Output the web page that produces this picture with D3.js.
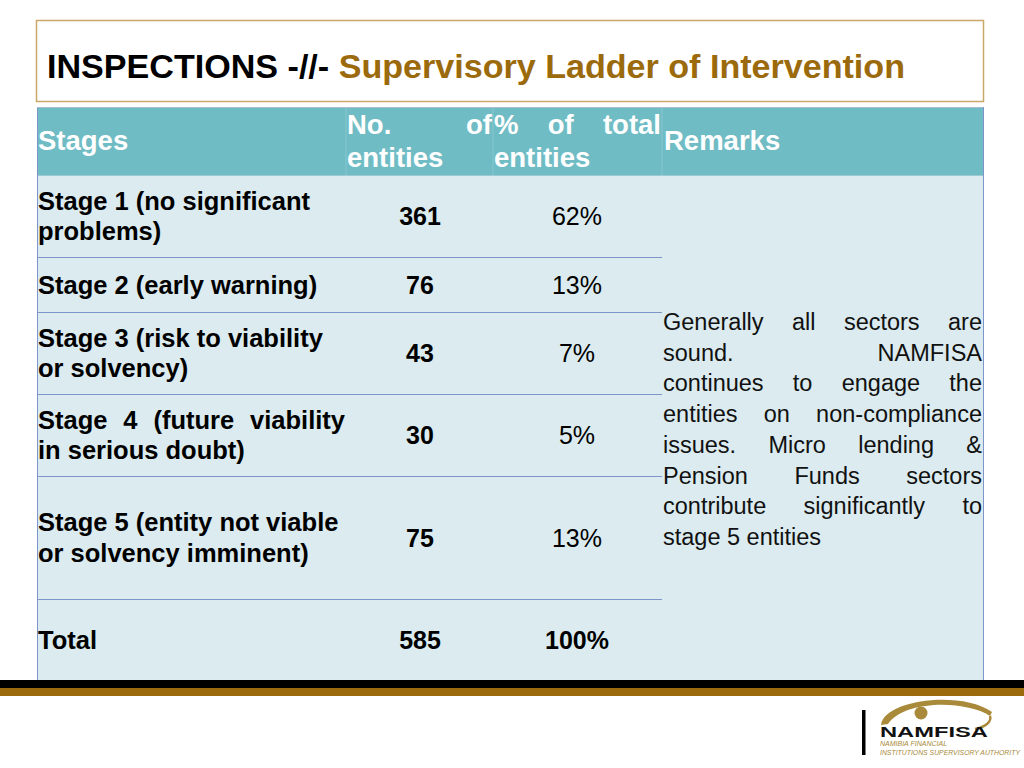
<!DOCTYPE html>
<html>
<head>
<meta charset="utf-8">
<script src="https://cdn.jsdelivr.net/npm/d3@7"></script>
<style>
  body { margin: 0; background: #fff; }
  svg { display: block; }
</style>
</head>
<body>
<div id="slide"></div>
<script>
// table content
var stages = [
  ["Stage 1 (no significant", "problems)"],
  ["Stage 2 (early warning)"],
  ["Stage 3 (risk to viability", "or solvency)"],
  ["Stage 4 (future viability", "in serious doubt)"],
  ["Stage 5 (entity not viable", "or solvency imminent)"]
];
var counts = [361, 76, 43, 30, 75];
var percents = [62, 13, 7, 5, 13];
var totalLabel = "Total";
var totalCount = 585;
var totalPercent = 100;
var headers = ["Stages", "No. of|entities", "% of total|entities", "Remarks"];
var remarks = [
  "Generally all sectors are",
  "sound. NAMFISA",
  "continues to engage the",
  "entities on non-compliance",
  "issues. Micro lending &",
  "Pension Funds sectors",
  "contribute significantly to",
  "stage 5 entities"
];

var W = 1024, H = 768;
var font = "'Liberation Sans', Arial, Helvetica, sans-serif";
var gold = "#9b6a0c";
var logoGold = "#a88a3a";
var lineBlue = "#7d95c8";

var svg = d3.select("#slide").append("svg")
  .attr("width", W)
  .attr("height", H);

// title box
svg.append("rect")
  .attr("x", 36.5).attr("y", 20.5)
  .attr("width", 947).attr("height", 81)
  .attr("fill", "#fff")
  .attr("stroke", "#c9a86a")
  .attr("stroke-width", 1.5);

var title = svg.append("text")
  .attr("x", 47).attr("y", 78)
  .attr("font-family", font)
  .attr("font-weight", "bold")
  .attr("font-size", 33)
  .attr("textLength", 858)
  .attr("lengthAdjust", "spacingAndGlyphs");
title.append("tspan").attr("fill", "#000").text("INSPECTIONS -//- ");
title.append("tspan").attr("fill", gold).text("Supervisory Ladder of Intervention");

// columns
var colEdges = [37, 346, 493, 662, 983];
var x = d3.scaleOrdinal().domain([0, 1, 2, 3]).range(colEdges.slice(0, 4));
var colW = function(i) { return colEdges[i + 1] - colEdges[i]; };

// rows (layout only)
var headTop = 107, headH = 68;
var rowHeights = [82, 55, 82, 82, 123, 81];
var rowTops = [];
rowHeights.reduce(function(acc, h) { rowTops.push(acc); return acc + h; }, headTop + headH);
var bodyTop = headTop + headH;
var bodyBottom = rowTops[rowTops.length - 1] + rowHeights[rowHeights.length - 1];

// body background
svg.append("rect")
  .attr("x", colEdges[0]).attr("y", bodyTop)
  .attr("width", colEdges[4] - colEdges[0]).attr("height", bodyBottom - bodyTop)
  .attr("fill", "#dbebef");

// header background
svg.append("rect")
  .attr("x", colEdges[0]).attr("y", headTop)
  .attr("width", colEdges[4] - colEdges[0]).attr("height", headH)
  .attr("fill", "#70bcc5");

// faint header column dividers
svg.selectAll(".hdiv").data([1, 2, 3]).enter().append("line")
  .attr("x1", function(d) { return x(d); }).attr("x2", function(d) { return x(d); })
  .attr("y1", headTop).attr("y2", headTop + headH)
  .attr("stroke", "#86c6cd").attr("stroke-width", 1);

// row separators (stop at remarks column)
svg.selectAll(".rowline").data(rowTops.slice(1)).enter().append("line")
  .attr("x1", colEdges[0]).attr("x2", colEdges[3])
  .attr("y1", function(d) { return d + 0.5; }).attr("y2", function(d) { return d + 0.5; })
  .attr("stroke", lineBlue).attr("stroke-width", 1);

svg.append("line")
  .attr("x1", colEdges[0]).attr("x2", colEdges[4])
  .attr("y1", bodyTop + 0.5).attr("y2", bodyTop + 0.5)
  .attr("stroke", "#9fc9d2").attr("stroke-width", 1);

// outer borders
[colEdges[0], colEdges[4]].forEach(function(xx) {
  svg.append("line")
    .attr("x1", xx + 0.5).attr("x2", xx + 0.5)
    .attr("y1", headTop).attr("y2", bodyBottom)
    .attr("stroke", lineBlue).attr("stroke-width", 1);
});
svg.append("line")
  .attr("x1", colEdges[0]).attr("x2", colEdges[4])
  .attr("y1", headTop + 0.5).attr("y2", headTop + 0.5)
  .attr("stroke", "#aabbd8").attr("stroke-width", 1);

// justified text helper: spreads words across width
function justify(g, str, x0, width, y, attrs) {
  var words = str.split(/\s+/);
  var nodes = words.map(function(w) {
    var t = g.append("text").attr("y", y).text(w);
    for (var k in attrs) t.attr(k, attrs[k]);
    return t;
  });
  var widths = nodes.map(function(n) { return n.node().getComputedTextLength(); });
  var total = d3.sum(widths);
  var gap = words.length > 1 ? (width - total) / (words.length - 1) : 0;
  var cx = x0;
  nodes.forEach(function(n, i) {
    n.attr("x", cx);
    cx += widths[i] + gap;
  });
}

function plain(g, str, xx, y, attrs) {
  var t = g.append("text").attr("x", xx).attr("y", y).text(str);
  for (var k in attrs) t.attr(k, attrs[k]);
  return t;
}

var hdrAttrs = { "font-family": font, "font-weight": "bold", "font-size": 27.5, "fill": "#fff" };
var hdr = svg.append("g");
plain(hdr, headers[0], x(0) + 1, 150, hdrAttrs);
var h1 = headers[1].split("|"), h2 = headers[2].split("|");
justify(hdr, h1[0], x(1) + 1, colW(1) - 2, 134, hdrAttrs);
plain(hdr, h1[1], x(1) + 1, 167, hdrAttrs);
justify(hdr, h2[0], x(2) + 1, colW(2) - 2, 134, hdrAttrs);
plain(hdr, h2[1], x(2) + 1, 167, hdrAttrs);
plain(hdr, headers[3], x(3) + 2, 150, hdrAttrs);

// body rows
var lblAttrs = { "font-family": font, "font-weight": "bold", "font-size": 25.5, "fill": "#000" };
var numAttrs = { "font-family": font, "font-weight": "bold", "font-size": 25, "fill": "#000", "text-anchor": "middle" };
var pctAttrs = { "font-family": font, "font-weight": "normal", "font-size": 25, "fill": "#000", "text-anchor": "middle" };
var lineGap = 30.5;
var numX = x(1) + colW(1) / 2 + 0.5;
var pctX = x(2) + colW(2) / 2 - 0.5;

var body = svg.append("g");
stages.forEach(function(lines, i) {
  var mid = rowTops[i] + rowHeights[i] / 2;
  var first = mid - (lines.length - 1) * lineGap / 2 + 9;
  lines.forEach(function(ln, j) {
    if (i === 3 && j === 0) justify(body, ln, x(0) + 1, colW(0) - 2, first, lblAttrs);
    else plain(body, ln, x(0) + 1, first + j * lineGap, lblAttrs);
  });
  plain(body, counts[i], numX, mid + 9, numAttrs);
  plain(body, percents[i] + "%", pctX, mid + 9, pctAttrs);
});

var tMid = rowTops[5] + rowHeights[5] / 2;
plain(body, totalLabel, x(0) + 1, tMid + 9, lblAttrs);
plain(body, totalCount, numX, tMid + 9, numAttrs);
plain(body, totalPercent + "%", pctX, tMid + 9, numAttrs);

// remarks (justified, last line ragged)
var remAttrs = { "font-family": font, "font-size": 23.5, "fill": "#111" };
remarks.forEach(function(ln, i) {
  var y = 330 + i * 30.7;
  if (i < remarks.length - 1) justify(body, ln, x(3) + 1, colW(3) - 2, y, remAttrs);
  else plain(body, ln, x(3) + 1, y, remAttrs);
});

// footer bars
svg.append("rect").attr("x", 0).attr("y", 680).attr("width", W).attr("height", 8).attr("fill", "#000");
svg.append("rect").attr("x", 0).attr("y", 688).attr("width", W).attr("height", 8).attr("fill", gold);

// logo
var logo = svg.append("g");
logo.append("rect").attr("x", 862).attr("y", 710).attr("width", 3.5).attr("height", 45).attr("fill", "#000");
// swoosh: thick upper arc tapering to the right, thin lower arc
logo.append("path")
  .attr("d", "M881,725 C884,700 960,690 992,712 L990,716 C965,700 905,700 888,724 Z")
  .attr("fill", logoGold);
logo.append("path")
  .attr("d", "M990,716 C992,722 985,727 975,729")
  .attr("fill", "none").attr("stroke", logoGold).attr("stroke-width", 2.5);
logo.append("circle").attr("cx", 921).attr("cy", 713).attr("r", 6.5).attr("fill", logoGold);
logo.append("text").attr("x", 880).attr("y", 737)
  .attr("font-family", font).attr("font-weight", "bold").attr("font-size", 14.5)
  .attr("textLength", 108).attr("lengthAdjust", "spacingAndGlyphs")
  .attr("fill", "#111").text("NAMFISA");
logo.append("text").attr("x", 880).attr("y", 746)
  .attr("font-family", font).attr("font-style", "italic").attr("font-size", 7)
  .attr("fill", logoGold).text("NAMIBIA FINANCIAL");
logo.append("text").attr("x", 880).attr("y", 755)
  .attr("font-family", font).attr("font-style", "italic").attr("font-size", 7)
  .attr("textLength", 140).attr("lengthAdjust", "spacingAndGlyphs")
  .attr("fill", logoGold).text("INSTITUTIONS SUPERVISORY AUTHORITY");
</script>
</body>
</html>
